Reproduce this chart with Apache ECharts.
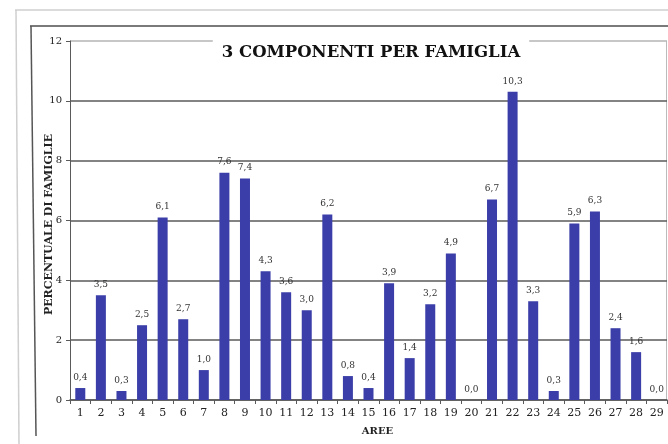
<!DOCTYPE html>
<html>
<head>
<meta charset="utf-8">
<style>
  html, body { margin: 0; padding: 0; background: #fff; }
  #chart { width: 668px; height: 444px; }
</style>
<script src="https://cdn.jsdelivr.net/npm/echarts@6/dist/echarts.min.js"></script>
</head>
<body>
<div id="chart"></div>
<script>
var areas = ['1','2','3','4','5','6','7','8','9','10','11','12','13','14','15','16','17','18','19','20','21','22','23','24','25','26','27','28','29'];
var percent = [0.4, 3.5, 0.3, 2.5, 6.1, 2.7, 1.0, 7.6, 7.4, 4.3, 3.6, 3.0, 6.2, 0.8, 0.4, 3.9, 1.4, 3.2, 4.9, 0.0, 6.7, 10.3, 3.3, 0.3, 5.9, 6.3, 2.4, 1.6, 0.0];
var yTicks = [0, 2, 4, 6, 8, 10, 12];

var serif = '"DejaVu Serif", "Liberation Serif", serif';
var barColor = '#3b3ea8';
var ink = '#222';
var grid = '#5a5a5a';

var chart = echarts.init(document.getElementById('chart'), null, { renderer: 'canvas' });
chart.setOption({
  animation: false,
  backgroundColor: '#fff',
  graphic: [
    // outer light frame
    { type: 'line', shape: { x1: 15, y1: 10, x2: 668, y2: 10 }, style: { stroke: '#cfcfcf', lineWidth: 1.5 } },
    { type: 'line', shape: { x1: 16, y1: 10, x2: 19, y2: 444 }, style: { stroke: '#cfcfcf', lineWidth: 1.5 } },
    // inner dark frame
    { type: 'line', shape: { x1: 30, y1: 26, x2: 668, y2: 26 }, style: { stroke: '#7a7a7a', lineWidth: 2 } },
    { type: 'line', shape: { x1: 31, y1: 26, x2: 36, y2: 436 }, style: { stroke: '#555', lineWidth: 1.5 } },
    // plot right border
    { type: 'line', shape: { x1: 666.5, y1: 41, x2: 666.5, y2: 400 }, style: { stroke: '#bbb', lineWidth: 1 } }
  ],
  title: {
    text: '3 COMPONENTI PER FAMIGLIA',
    left: 362,
    textAlign: 'center',
    top: 37,
    padding: [7, 9, 6, 9],
    backgroundColor: '#fff',
    textStyle: { fontFamily: serif, fontWeight: 'bold', fontSize: 16.5, color: '#111' }
  },
  grid: { left: 70, top: 41, width: 597, height: 359, containLabel: false },
  xAxis: {
    type: 'category',
    data: areas,
    name: 'AREE',
    nameLocation: 'middle',
    nameGap: 26,
    nameTextStyle: { fontFamily: serif, fontWeight: 'bold', fontSize: 10, color: ink, padding: [0, 0, 0, 18] },
    axisLine: { lineStyle: { color: grid, width: 1.5 } },
    axisTick: { show: true, alignWithLabel: false, length: 4, lineStyle: { color: grid } },
    axisLabel: { fontFamily: serif, fontSize: 11, color: ink, margin: 8, interval: 0 }
  },
  yAxis: {
    type: 'value',
    min: 0,
    max: 12,
    interval: 2,
    name: 'PERCENTUALE DI FAMIGLIE',
    nameLocation: 'middle',
    nameRotate: 90,
    nameGap: 15,
    nameMoveOverlap: false,
    nameTextStyle: { fontFamily: serif, fontWeight: 'bold', fontSize: 11, color: ink, padding: [0, 8, 0, 0] },
    axisLine: { show: true, lineStyle: { color: grid, width: 1 } },
    axisTick: { show: true, length: 4, lineStyle: { color: grid } },
    axisLabel: {
      fontFamily: serif, fontSize: 10, color: ink, margin: 8,
      formatter: function (v) { return yTicks.indexOf(v) >= 0 ? String(v) : ''; }
    },
    splitLine: { show: true, lineStyle: { color: [grid, grid, grid, grid, grid, grid, '#b5b5b5'], width: 1.5 } }
  },
  series: [{
    type: 'bar',
    data: percent,
    barWidth: 10,
    itemStyle: { color: barColor },
    label: {
      show: true,
      position: 'top',
      distance: 6,
      fontFamily: serif,
      fontSize: 9,
      color: '#333',
      formatter: function (p) { return p.value.toFixed(1).replace('.', ','); }
    }
  }]
});
</script>
</body>
</html>
